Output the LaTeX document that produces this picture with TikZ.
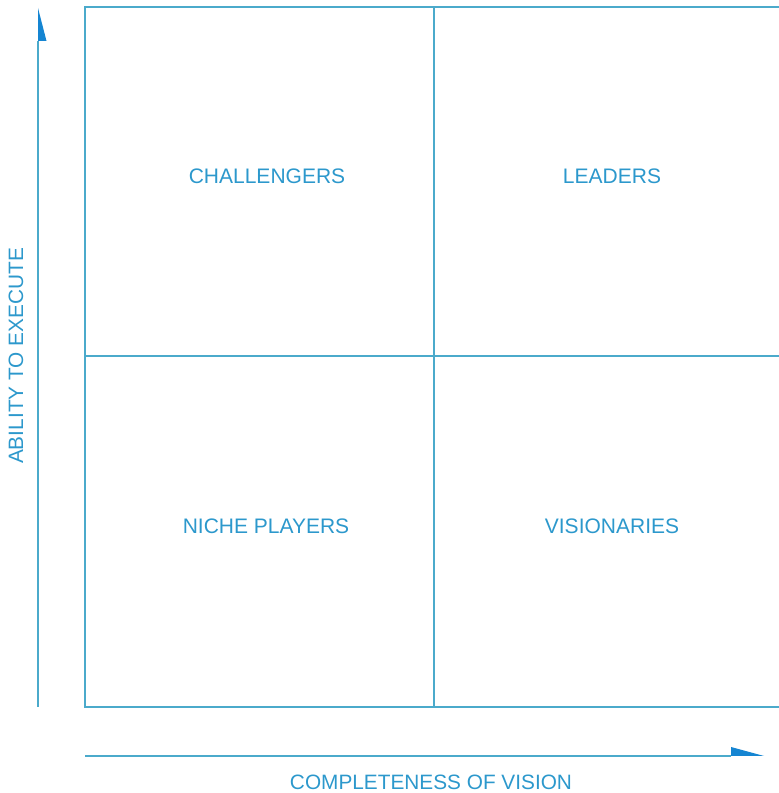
\documentclass[tikz,border=0pt]{standalone}
\usepackage{fontspec}
\setmainfont{Liberation Sans}
\usepackage{tikz}
\usetikzlibrary{arrows.meta,positioning,calc}
\definecolor{gridline}{HTML}{4BAACB}
\definecolor{labelblue}{HTML}{2C98CC}
\definecolor{tipblue}{HTML}{1585D2}

\begin{document}
\begin{tikzpicture}[
  x=1pt, y=1pt,
  quadlabel/.style={text=labelblue, font=\fontsize{21}{24}\selectfont, inner sep=0pt},
  axislabel/.style={text=labelblue, font=\fontsize{20.8}{24}\selectfont, inner sep=0pt},
  gridedge/.style={gridline, line width=1.2pt},
  upaxis/.style={gridline, line width=1.2pt,
    -{Triangle[right, length=33pt, width=17pt, color=tipblue, fill=tipblue, line width=0pt]}},
  rightaxis/.style={gridline, line width=1.2pt,
    -{Triangle[left, length=33pt, width=18pt, color=tipblue, fill=tipblue, line width=0pt]}}
]
\useasboundingbox (0,0) rectangle (779,793);
% ---------------- quadrant frame ----------------
\coordinate (tl) at (85,786);
\coordinate (bl) at (85,86);
\coordinate (tr) at (790,786);
\coordinate (br) at (790,86);
\coordinate (mt) at (434,786);
\coordinate (mb) at (434,86);
\coordinate (ml) at (85,437);
\coordinate (mr) at (790,437);
\draw[gridedge] (tr) -- (tl) -- (bl) -- (br);
\draw[gridedge] (mt) -- (mb);
\draw[gridedge] (ml) -- (mr);
% ---------------- quadrant names ----------------
\node[quadlabel] (chal) at (267,617) {CHALLENGERS};
\node[quadlabel] (lead) at (612,617) {LEADERS};
\node[quadlabel] (niche) at (266,267) {NICHE PLAYERS};
\node[quadlabel] (vis) at (612,267) {VISIONARIES};
% ---------------- axes ----------------
\coordinate (ybase) at (38,86);
\coordinate (ytip) at (38,785);
\coordinate (xbase) at (85,37);
\coordinate (xtip) at (764,37);
\draw[upaxis] (ybase) -- (ytip);
\draw[rightaxis] (xbase) -- (xtip);
\node[axislabel, rotate=90] (ability) at (16,437) {ABILITY TO EXECUTE};
\node[axislabel] (vision) at (431,11) {COMPLETENESS OF VISION};
\end{tikzpicture}
\end{document}
